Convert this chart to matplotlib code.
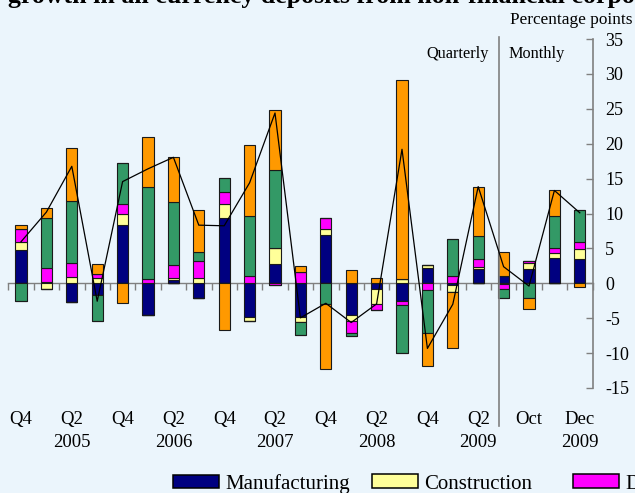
import numpy as np
import matplotlib
matplotlib.use("Agg")
import matplotlib.pyplot as plt
from matplotlib.patches import Patch
from matplotlib.transforms import blended_transform_factory

plt.rcParams['font.family'] = ['Liberation Serif', 'DejaVu Serif']
plt.rcParams['axes.unicode_minus'] = False

# ---------------- data ----------------
periods = ["Q4 2004", "Q1 2005", "Q2 2005", "Q3 2005", "Q4 2005", "Q1 2006", "Q2 2006",
           "Q3 2006", "Q4 2006", "Q1 2007", "Q2 2007", "Q3 2007", "Q4 2007", "Q1 2008",
           "Q2 2008", "Q3 2008", "Q4 2008", "Q1 2009", "Q2 2009",
           "Sep 2009", "Oct 2009", "Nov 2009", "Dec 2009"]
manufacturing = [4.76, 0.2, -2.71, -1.71, 8.38, -4.57, 0.45, -2.1, 9.33, -4.86, 2.76, -4.86,
                 6.9, -4.57, -0.86, -2.55, 2.14, -0.25, 2.0, 1.05, 2.0, 3.67, 3.52]
construction = [1.19, -0.76, 0.95, 0.71, 1.57, 0.0, 0.3, 0.76, 2.05, -0.48, 2.24, -0.71,
                0.95, -0.9, -2.1, 0.57, 0.48, -1.05, 0.38, -0.14, 0.86, 0.67, 1.33]
distribution = [1.76, 1.95, 1.95, 0.67, 1.48, 0.67, 1.9, 2.43, 1.67, 1.0, -0.3, 1.67,
                1.57, -1.62, -0.9, -0.55, -1.0, 1.0, 1.05, -0.72, 0.38, 0.67, 1.05]
financial = [-2.57, 7.19, 8.9, -3.62, 5.86, 13.14, 8.95, 1.33, 2.0, 8.67, 11.29, -1.81,
             -2.95, -0.52, 0.0, -6.9, -6.14, 5.38, 3.33, -1.28, -2.05, 4.62, 4.67]
other = [0.67, 1.38, 7.62, 1.43, -2.76, 7.14, 6.43, 5.95, -6.76, 10.19, 8.48, 0.76,
         -9.38, 1.95, 0.71, 28.57, -4.76, -8.0, 7.05, 3.43, -1.57, 3.71, -0.52]
total = [5.95, 10.2, 16.76, -2.57, 14.57, 16.4, 18.05, 8.33, 8.24, 14.4, 24.4, -4.95,
         -2.86, -5.62, -2.95, 19.2, -9.33, -3.0, 13.85, 2.38, -0.4, 13.3, 10.1]

series_names = ["Manufacturing", "Construction", "Distribution",
                "Financial intermediation", "Other"]
series_colors = ["#000080", "#FFFF99", "#FF00FF", "#339966", "#FF9900"]

tick_labels = ["Q4", "Q2", "Q4", "Q2", "Q4", "Q2", "Q4", "Q2", "Q4", "Q2", "Oct", "Dec"]
tick_pos = [0, 2, 4, 6, 8, 10, 12, 14, 16, 18, 20, 22]
year_labels = ["2005", "2006", "2007", "2008", "2009", "2009"]
year_pos = [2, 6, 10, 14, 18, 22]

# ---------------- figure ----------------
BG = "#EBF5FC"
W, H = 635, 493
fig = plt.figure(figsize=(W / 100, H / 100), dpi=100, facecolor=BG)
L, R, T, B = 8.3, 592.5, 39, 388
ax = fig.add_axes([L / W, 1 - B / H, (R - L) / W, (B - T) / H])
ax.set_facecolor(BG)

x = np.arange(len(periods))
data = [np.array(s, dtype=float) for s in
        (manufacturing, construction, distribution, financial, other)]
pos_bottom = np.zeros(len(x))
neg_bottom = np.zeros(len(x))
handles = []
for vals, name, col in zip(data, series_names, series_colors):
    pos = np.where(vals > 0, vals, 0)
    neg = np.where(vals < 0, vals, 0)
    ax.bar(x, pos, 0.44, bottom=pos_bottom, color=col, edgecolor="#1a1a1a",
           linewidth=0.8, zorder=2)
    ax.bar(x, neg, 0.44, bottom=neg_bottom, color=col, edgecolor="#1a1a1a",
           linewidth=0.8, zorder=2)
    pos_bottom += pos
    neg_bottom += neg
    handles.append(Patch(facecolor=col, edgecolor="black", linewidth=1.1, label=name))

ax.plot(x, total, color="black", linewidth=0.9, zorder=4)

ax.set_xlim(-0.5, 22.5)
ax.set_ylim(-15, 35)

for s in ("left", "top"):
    ax.spines[s].set_visible(False)
ax.spines["bottom"].set_position(("data", 0))
ax.spines["bottom"].set_color("#808080")
ax.spines["bottom"].set_linewidth(1.0)
ax.spines["bottom"].set_zorder(1)
ax.spines["right"].set_color("#808080")
ax.spines["right"].set_linewidth(1.2)

ax.set_xticks(np.arange(-0.5, 23, 1))
ax.set_xticklabels([])
ax.tick_params(axis="x", direction="out", length=5, width=1.0, color="#808080")

ax.yaxis.tick_right()
ax.set_yticks(np.arange(-15, 36, 5))
ax.tick_params(axis="y", direction="in", length=5, width=1.0, color="#808080",
               labelsize=13, pad=9)

# category labels under the plot
tr = blended_transform_factory(ax.transData, fig.transFigure)
for p, lab in zip(tick_pos, tick_labels):
    ax.text(p, 1 - 424 / H, lab, transform=tr, ha="center", va="baseline", fontsize=13.5)
for p, lab in zip(year_pos, year_labels):
    ax.text(p, 1 - 447 / H, lab, transform=tr, ha="center", va="baseline", fontsize=13.5)

# quarterly / monthly separator
sep = 18.82
ax.axvline(sep, ymin=(-20.4 + 15) / 50, ymax=(35.3 + 15) / 50, color="#808080",
           linewidth=1.2, clip_on=False, zorder=3)
ax.text(18.43, 32.3, "Quarterly", ha="right", va="baseline", fontsize=11.7)
ax.text(19.2, 32.3, "Monthly", ha="left", va="baseline", fontsize=11.7)

# titles
fig.text(8 / W, 1 - 3.5 / H,
         "growth in all currency deposits from non-financial corporations",
         ha="left", va="baseline", fontsize=18.6, fontweight="bold")
fig.text(632 / W, 1 - 24 / H, "Percentage points", ha="right", va="baseline",
         fontsize=12.4)

# legend (fixed-width columns; only the entries that fit in the picture)
leg_x = [173, 372, 573]
for h, lx in zip(handles, leg_x):
    fig.legend(handles=[h], loc="center left", bbox_to_anchor=(lx / W, 1 - 484 / H),
               frameon=False, fontsize=15, borderpad=0, borderaxespad=0,
               handlelength=2.2, handleheight=0.63, handletextpad=0.3)

fig.savefig("out.png", dpi=100, facecolor=BG)
